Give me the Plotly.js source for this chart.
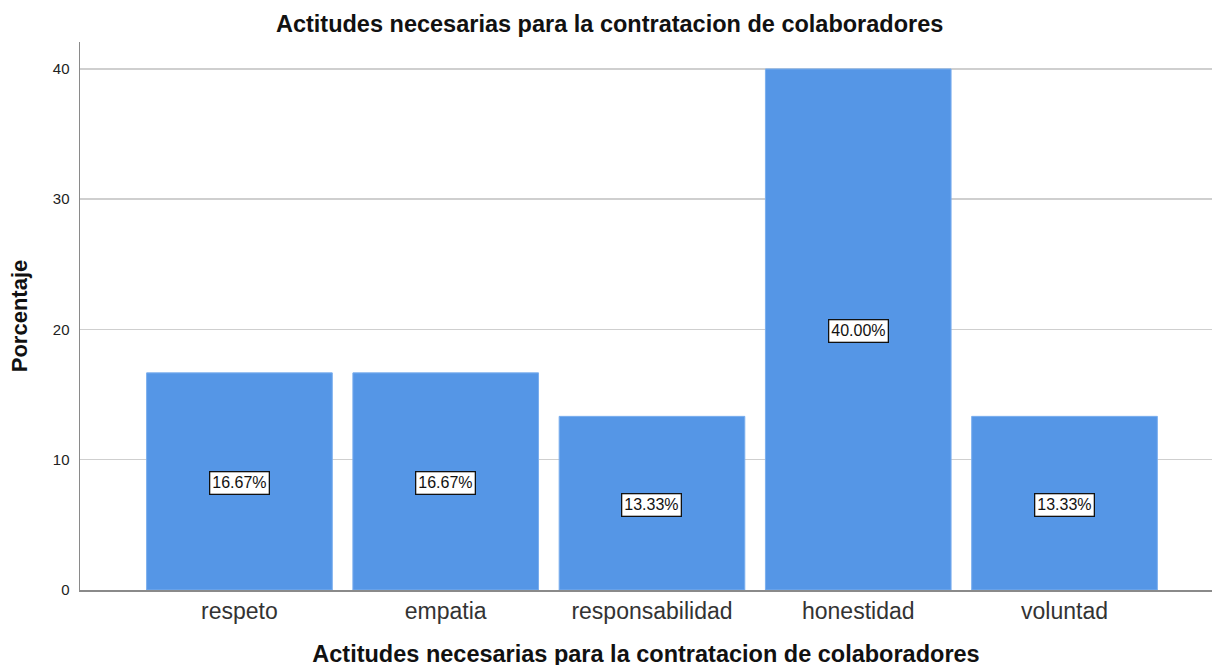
<!DOCTYPE html>
<html>
<head>
<meta charset="utf-8">
<script src="https://cdn.plot.ly/plotly-3.0.1.min.js"></script>
<style>html,body{margin:0;padding:0;background:#fff;overflow:hidden;width:1212px;height:665px;}#chart{width:1212px;height:678px;}</style>
</head>
<body>
<div id="chart"></div>
<script>
const categories = ["respeto", "empatia", "responsabilidad", "honestidad", "voluntad"];
const percentages = [16.67, 16.67, 13.33, 40.00, 13.33];
const yTicks = [0, 10, 20, 30, 40];
const chartTitle = "Actitudes necesarias para la contratacion de colaboradores";
const xTitle = "Actitudes necesarias para la contratacion de colaboradores";
const yTitle = "Porcentaje";

const FONT = "Liberation Sans, Arial, Helvetica, sans-serif";

const trace = {
  type: "bar",
  x: categories,
  y: percentages,
  marker: { color: "#5596e6", line: { color: "#7aaeee", width: 1 } },
  hoverinfo: "skip"
};

const annotations = categories.map((c, i) => ({
  x: c,
  y: percentages[i] / 2,
  xref: "x",
  yref: "y",
  text: percentages[i].toFixed(2) + "%",
  showarrow: false,
  bgcolor: "#ffffff",
  bordercolor: "#111111",
  borderwidth: 1.3,
  borderpad: 2,
  yshift: -2,
  font: { family: FONT, size: 16, color: "#111" }
}));

const layout = {
  width: 1212,
  height: 678,
  margin: { l: 80, r: 0, t: 42, b: 88 },
  paper_bgcolor: "#ffffff",
  plot_bgcolor: "#ffffff",
  showlegend: false,
  bargap: 0.1,
  title: {
    text: chartTitle,
    font: { family: FONT, size: 23.5, color: "#111", weight: "bold" },
    x: 0.503, xanchor: "center",
    y: 1 - 24 / 678, yref: "container", yanchor: "middle"
  },
  xaxis: {
    type: "category",
    range: [-0.773, 4.715],
    showline: true,
    linecolor: "#8a8a8a",
    linewidth: 1.5,
    showgrid: false,
    ticks: "",
    tickfont: { family: FONT, size: 23, color: "#333" },
    title: {
      text: xTitle,
      font: { family: FONT, size: 23.5, color: "#111", weight: "bold" },
      standoff: 22
    },
    automargin: false,
    fixedrange: true
  },
  yaxis: {
    range: [0, 42.07],
    tickvals: yTicks,
    showline: true,
    linecolor: "#8a8a8a",
    linewidth: 1.5,
    showgrid: true,
    gridcolor: "#cfcfcf",
    gridwidth: 1.5,
    zeroline: false,
    ticks: "outside",
    ticklen: 6,
    tickcolor: "rgba(0,0,0,0)",
    tickfont: { family: FONT, size: 15, color: "#222" },
    title: {
      text: yTitle,
      font: { family: FONT, size: 22, color: "#111", weight: "bold" },
      standoff: 19
    },
    automargin: false,
    fixedrange: true
  },
  annotations: annotations
};

Plotly.newPlot("chart", [trace], layout, { staticPlot: true, displayModeBar: false });
</script>
</body>
</html>
